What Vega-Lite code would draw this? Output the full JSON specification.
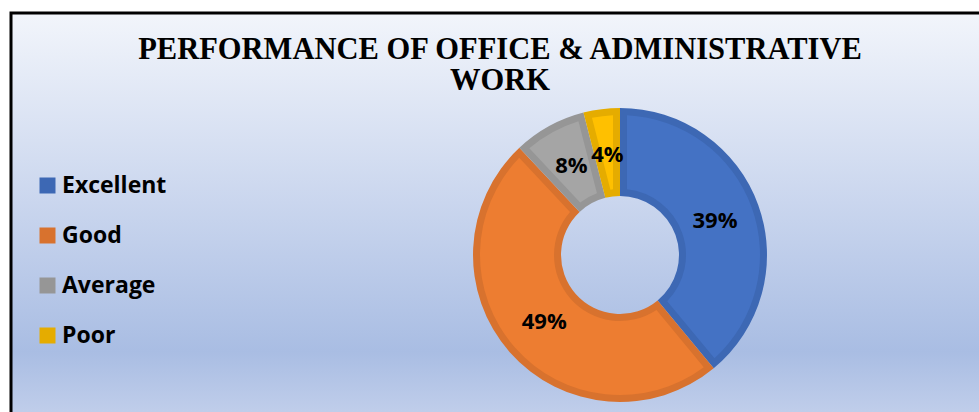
{
  "$schema": "https://vega.github.io/schema/vega-lite/v6.json",
  "autosize": {"type": "none"},
  "width": 1218,
  "height": 484,
  "padding": {"left": 11, "top": 13, "right": 0, "bottom": 0},
  "background": "white",
  "view": {
    "stroke": "black",
    "strokeWidth": 3,
    "fill": {
      "gradient": "linear",
      "x1": 0, "y1": 0, "x2": 0, "y2": 1,
      "stops": [
        {"offset": 0, "color": "#F2F5FB"},
        {"offset": 0.39, "color": "#CAD6EE"},
        {"offset": 0.7, "color": "#A9BDE3"},
        {"offset": 0.82, "color": "#BFCDEA"},
        {"offset": 1, "color": "#D0DBF0"}
      ]
    }
  },
  "title": {
    "text": ["PERFORMANCE OF OFFICE & ADMINISTRATIVE", "WORK"],
    "font": "Liberation Serif",
    "fontWeight": "bold",
    "fontSize": 30.5,
    "color": "black",
    "anchor": "middle",
    "frame": "group",
    "offset": -83,
    "dx": -120,
    "lineHeight": 31
  },
  "data": {
    "values": [
      {"category": "Excellent", "pct": 0.39},
      {"category": "Good", "pct": 0.49},
      {"category": "Average", "pct": 0.08},
      {"category": "Poor", "pct": 0.04}
    ]
  },
  "transform": [
    {"window": [{"op": "row_number", "as": "rank"}]}
  ],
  "encoding": {
    "theta": {"field": "pct", "type": "quantitative", "stack": true},
    "order": {"field": "rank", "type": "quantitative"},
    "color": {
      "field": "category",
      "type": "nominal",
      "sort": ["Excellent", "Good", "Average", "Poor"],
      "scale": {
        "domain": ["Excellent", "Good", "Average", "Poor"],
        "range": ["#3D68B4", "#D8722E", "#969696", "#E5AC00"]
      },
      "legend": {
        "orient": "none",
        "legendX": 25,
        "legendY": 161,
        "title": null,
        "padding": 0,
        "symbolType": "square",
        "symbolSize": 256,
        "symbolStrokeWidth": 0,
        "symbolOpacity": 1,
        "labelFont": "Open Sans",
        "labelFontWeight": "bold",
        "labelFontSize": 23,
        "labelColor": "black",
        "labelOffset": 3,
        "rowPadding": 26
      }
    }
  },
  "layer": [
    {"mark": {"type": "arc", "outerRadius": 147, "innerRadius": 59}},
    {
      "mark": {"type": "arc", "outerRadius": 140, "innerRadius": 66, "padAngle": 0.09},
      "encoding": {
        "fill": {
          "field": "category",
          "type": "nominal",
          "scale": {
            "domain": ["Excellent", "Good", "Average", "Poor"],
            "range": ["#4472C4", "#ED7D31", "#A5A5A5", "#FFC000"]
          },
          "legend": null
        }
      }
    },
    {
      "mark": {"type": "text", "radius": 101, "font": "Open Sans", "fontWeight": "bold", "fontSize": 22},
      "encoding": {
        "text": {"field": "pct", "type": "quantitative", "format": ".0%"},
        "fill": {"value": "black"}
      }
    }
  ]
}
